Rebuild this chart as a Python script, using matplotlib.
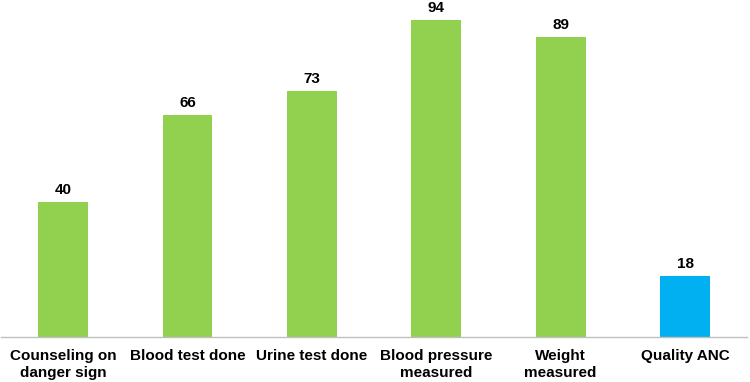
import matplotlib.pyplot as plt

categories = ['Counseling on\ndanger sign', 'Blood test done', 'Urine test done',
              'Blood pressure\nmeasured', 'Weight\nmeasured', 'Quality ANC']
values = [40, 66, 73, 94, 89, 18]
colors = ['#92D050', '#92D050', '#92D050', '#92D050', '#92D050', '#00B0F0']

plt.rcParams['font.family'] = ['Liberation Sans', 'DejaVu Sans']

fig = plt.figure(figsize=(7.5, 3.82), dpi=100)
ax = fig.add_axes([0.0013, 0.118, 0.995, 0.882])

x = range(len(categories))
bars = ax.bar(x, values, width=0.4, color=colors)

for b, v in zip(bars, values):
    ax.text(b.get_x() + b.get_width() / 2, v + 1.5, str(v), ha='center', va='bottom',
            fontsize=11, fontweight='bold')

ax.set_xlim(-0.5, len(categories) - 0.5)
ax.set_ylim(0, 100)
ax.set_xticks(list(x))
ax.set_xticklabels(categories, fontsize=11, fontweight='bold', linespacing=1.2)
ax.tick_params(axis='x', length=0, pad=9)
ax.set_yticks([])
for s in ['top', 'right', 'left']:
    ax.spines[s].set_visible(False)
ax.spines['bottom'].set_color('#BFBFBF')
ax.spines['bottom'].set_linewidth(1)

fig.savefig('out.png', dpi=100)
plt.close(fig)
